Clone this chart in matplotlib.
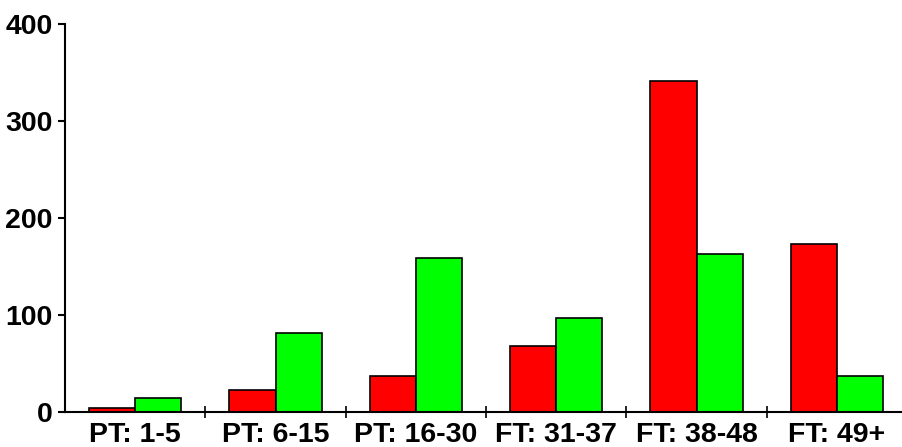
import matplotlib
matplotlib.use("Agg")
import matplotlib.pyplot as plt
import numpy as np

categories = ["PT: 1-5", "PT: 6-15", "PT: 16-30", "FT: 31-37", "FT: 38-48", "FT: 49+"]
red_vals = [4, 23, 37, 68, 341, 173]
green_vals = [14, 81, 159, 97, 163, 37]
yticks = [0, 100, 200, 300, 400]

plt.rcParams['font.family'] = ['Liberation Sans', 'DejaVu Sans']

fig = plt.figure(figsize=(9.02, 4.47), dpi=100)
ax = fig.add_axes([65/902, 35/447, 842/902, 388/447])

x = np.arange(len(categories))
w = 0.33
ax.bar(x - w/2, red_vals, w, color='#ff0000', edgecolor='black', linewidth=1.2)
ax.bar(x + w/2, green_vals, w, color='#00ff00', edgecolor='black', linewidth=1.2)

ax.set_xlim(-0.5, len(categories) - 0.5)
ax.set_ylim(0, 400)
ax.set_yticks(yticks)
ax.set_yticklabels([str(t) for t in yticks], fontsize=20.5, fontweight='bold')
ax.set_xticks(x)
ax.set_xticklabels(categories, fontsize=20.5, fontweight='bold')
ax.set_xticks(x[1:] - 0.5, minor=True)
ax.tick_params(axis='x', which='major', length=0, pad=7)
ax.tick_params(axis='x', which='minor', direction='inout', length=8, width=1.2)
ax.tick_params(axis='y', direction='out', length=5, width=1.5, pad=4)

for s in ['top', 'right']:
    ax.spines[s].set_visible(False)
for s in ['left', 'bottom']:
    ax.spines[s].set_linewidth(1.5)

fig.savefig("out.png", dpi=100)
